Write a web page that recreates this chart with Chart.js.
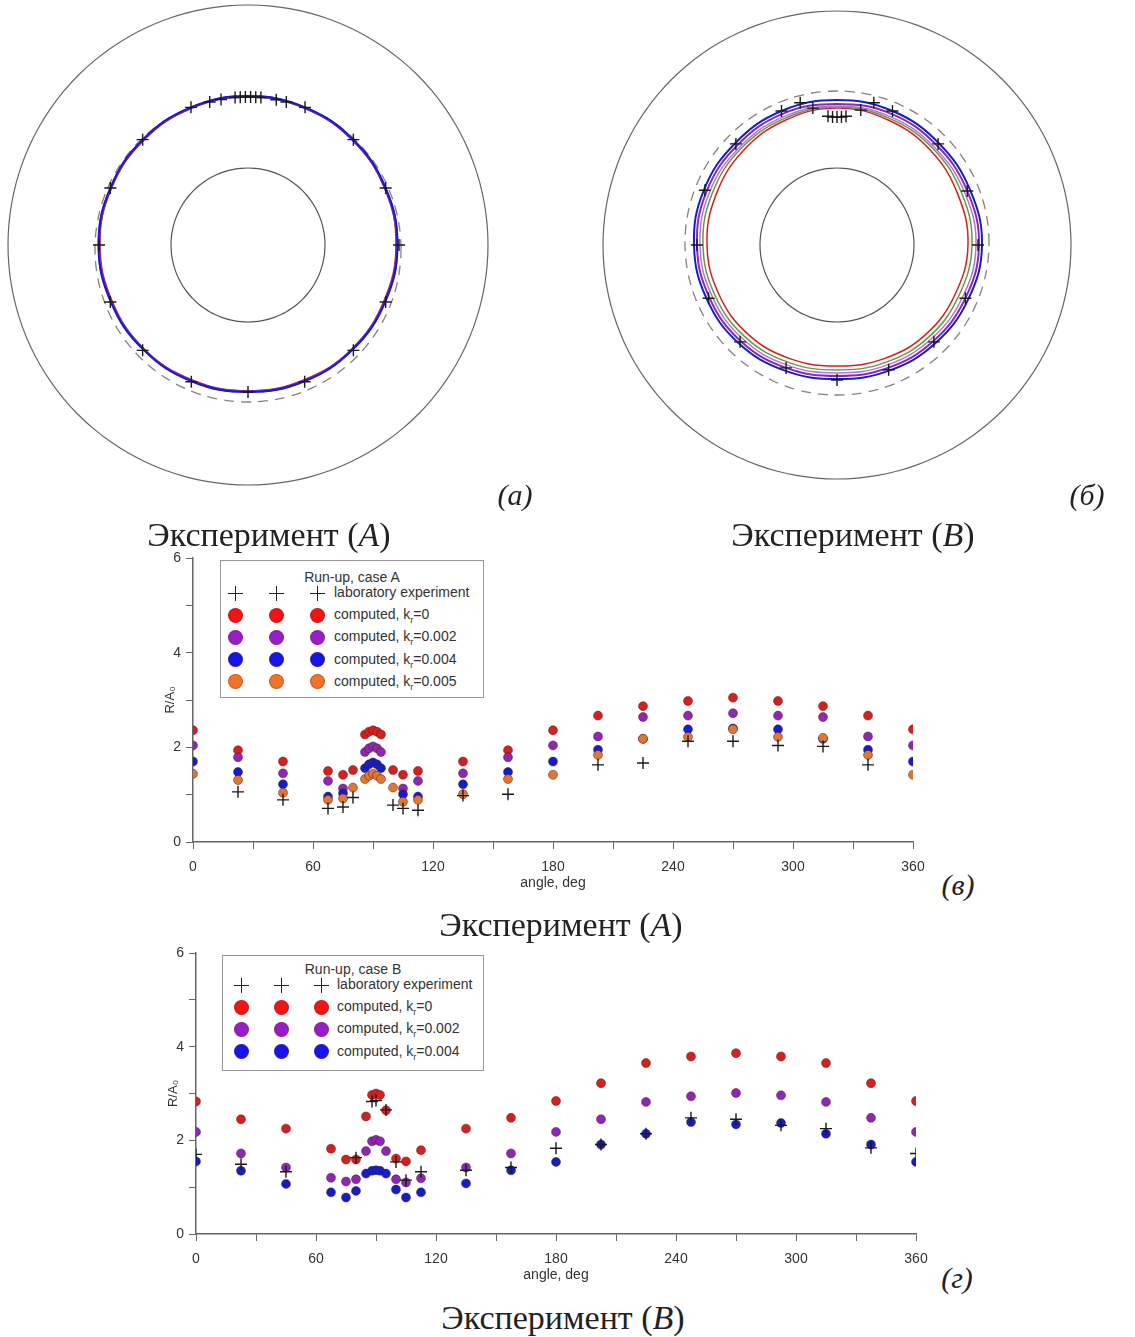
<!DOCTYPE html>
<html>
<head>
<meta charset="utf-8">
<script src="https://cdn.jsdelivr.net/npm/chart.js@4.4.0/dist/chart.umd.min.js"></script>
<style>
  body { margin: 0; background: #fff; }
  #page { position: relative; width: 1135px; height: 1337px; background: #fff; overflow: hidden; }
  canvas { position: absolute; }
  .cap { position: absolute; font-family: 'Liberation Serif', 'Times New Roman', serif; font-size: 34px; line-height: 36px; color: #222; white-space: nowrap; transform: translateX(-50%); }
  .lbl { position: absolute; font-family: 'Liberation Serif', 'Times New Roman', serif; font-style: italic; font-size: 30px; line-height: 32px; color: #222; transform: translateX(-50%); }
  .legend { position: absolute; border: 1px solid #999; background: #fff; font-family: 'Liberation Sans', Arial, sans-serif; font-size: 14px; color: #333; }
  .legend .title { position: absolute; left: 0; right: 0; text-align: center; line-height: 16px; }
  .legend .txt { position: absolute; white-space: nowrap; line-height: 16px; }
  .mk { position: absolute; width: 15px; height: 15px; border-radius: 50%; box-sizing: border-box; }
  .cross { position: absolute; width: 15px; height: 15px; }
  .cross:before, .cross:after { content: ''; position: absolute; background: #222; }
  .cross:before { left: 7px; top: 0; width: 1.6px; height: 15px; }
  .cross:after { top: 7px; left: 0; height: 1.6px; width: 15px; }
</style>
</head>
<body>
<div id="page">
  <canvas id="polarA" width="500" height="492" style="left:0px;top:0px;"></canvas>
  <canvas id="polarB" width="500" height="492" style="left:588px;top:0px;"></canvas>
  <canvas id="runupA" width="820" height="350" style="left:120px;top:548px;"></canvas>
  <canvas id="runupB" width="820" height="350" style="left:120px;top:940px;"></canvas>

  <div class="lbl" style="left:515px;top:479px;">(а)</div>
  <div class="lbl" style="left:1087px;top:479px;">(б)</div>
  <div class="cap" style="left:269px;top:517px;">Эксперимент (<i>A</i>)</div>
  <div class="cap" style="left:853px;top:517px;">Эксперимент (<i>B</i>)</div>
  <div class="lbl" style="left:958px;top:869px;">(в)</div>
  <div class="cap" style="left:561px;top:907px;">Эксперимент (<i>A</i>)</div>
  <div class="lbl" style="left:957px;top:1262px;">(г)</div>
  <div class="cap" style="left:563px;top:1300px;">Эксперимент (<i>B</i>)</div>

  <div class="legend" id="legA" style="left:220px;top:560px;width:262px;height:136px;"></div>
  <div class="legend" id="legB" style="left:222px;top:955px;width:260px;height:114px;"></div>
</div>

<script>
// ---- run-up vs angle, case A (panel в)
const anglesA = [0, 22.5, 45, 67.5, 75, 80, 86, 88, 90, 92, 94, 100, 105, 112.5, 135, 157.5, 180, 202.5, 225, 247.5, 270, 292.5, 315, 337.5, 360];
const labA = [null, 1.06, 0.89, 0.71, 0.74, 0.94, null, null, null, null, null, 0.78, 0.71, 0.67, 0.98, 1.01, null, 1.63, 1.67, 2.13, 2.13, 2.04, 2.02, 1.63, null];
const compA_k0 = [2.36, 1.94, 1.70, 1.50, 1.42, 1.52, 2.27, 2.33, 2.36, 2.33, 2.27, 1.52, 1.42, 1.50, 1.70, 1.94, 2.36, 2.67, 2.87, 2.98, 3.05, 2.98, 2.87, 2.67, 2.38];
const compA_k002 = [2.04, 1.79, 1.45, 1.29, 1.13, null, 1.90, 1.98, 2.02, 1.98, 1.90, null, 1.13, 1.29, 1.45, 1.79, 2.04, 2.23, 2.64, 2.67, 2.72, 2.67, 2.64, 2.23, 2.04];
const compA_k004 = [1.70, 1.48, 1.22, 0.96, 1.03, null, 1.56, 1.64, 1.68, 1.64, 1.56, null, 1.01, 0.96, 1.22, 1.48, 1.70, 1.95, 2.18, 2.38, 2.40, 2.38, 2.18, 1.95, 1.70];
const compA_k005 = [1.44, 1.31, 1.04, 0.89, 0.92, 1.15, 1.33, 1.40, 1.44, 1.40, 1.33, 1.15, 0.85, 0.89, 1.01, 1.33, 1.42, 1.84, 2.18, 2.22, 2.38, 2.22, 2.20, 1.84, 1.42];

// ---- run-up vs angle, case B (panel г)
const anglesB = [0, 22.5, 45, 67.5, 75, 80, 85, 88, 90, 92, 95, 100, 105, 112.5, 135, 157.5, 180, 202.5, 225, 247.5, 270, 292.5, 315, 337.5, 360];
const labB = [1.70, 1.49, 1.33, null, null, 1.63, null, 2.83, 2.85, null, 2.65, 1.54, 1.15, 1.33, 1.36, 1.42, 1.83, 1.91, 2.14, 2.48, 2.45, 2.32, 2.25, 1.84, 1.72];
const compB_k0 = [2.83, 2.45, 2.25, 1.82, 1.59, 1.59, 2.51, 2.97, 3.00, 2.97, 2.64, 1.61, 1.55, 1.79, 2.25, 2.48, 2.84, 3.22, 3.65, 3.79, 3.86, 3.79, 3.65, 3.22, 2.84];
const compB_k002 = [2.18, 1.72, 1.42, 1.20, 1.12, 1.17, 1.77, 1.98, 2.01, 1.98, 1.77, 1.17, 1.10, 1.19, 1.42, 1.72, 2.18, 2.45, 2.82, 2.94, 3.01, 2.96, 2.82, 2.48, 2.18];
const compB_k004 = [1.55, 1.35, 1.07, 0.89, 0.78, 0.92, 1.29, 1.35, 1.36, 1.35, 1.29, 0.95, 0.78, 0.89, 1.08, 1.36, 1.54, 1.91, 2.14, 2.39, 2.34, 2.37, 2.14, 1.91, 1.54];

const yTicks = [0, 2, 4, 6];
const xTicks = [0, 60, 120, 180, 240, 300, 360];

// ---- plan views: radius in px of the drawing, angle in deg (0 = right, 90 = top)
const outerA = 240, outerB = 234, innerR = 77;
const shoreA = 153, shoreB = 152;
const labPolarAnglesA = [0, 22.5, 45, 67.5, 75, 79, 85, 87, 89, 91, 93, 95, 100.5, 105, 112.5, 135, 157.5, 180, 202.5, 225, 247.5, 270, 292.5, 315, 337.5];
const labPolarRadiusA = [151, 149, 149, 149, 148, 148, 148, 148, 148, 148, 148, 148, 148, 148, 149, 149, 149, 149, 149, 149, 148, 147, 148, 149, 149];
const ringAngles = [0, 22.5, 45, 67.5, 90, 112.5, 135, 157.5, 180, 202.5, 225, 247.5, 270, 292.5, 315, 337.5];
const ringA_red = [148, 148, 148, 148, 148, 148, 148, 148, 148, 147, 147, 146, 146, 146, 147, 147];
const ringA_purple = [149, 148.5, 148.5, 148.5, 148.5, 148.5, 148.5, 148.5, 149, 148, 147.5, 147, 146.5, 147, 147.5, 148];
const ringA_blue = [149.5, 149, 149, 149, 149, 149, 149, 149, 149.5, 148.5, 148, 147.5, 147, 147.5, 148, 148.5];

const labPolarAnglesB = [0, 22.5, 45, 67.5, 75.5, 80, 86, 88, 90, 92, 94, 100, 104.5, 112.5, 135, 157.5, 180, 202.5, 225, 247.5, 270, 292.5, 315, 337.5];
const labPolarRadiusB = [141, 141, 143, 145, 147, 137, 129, 128, 128, 128, 129, 139, 147, 145, 143, 143, 140, 139, 137, 133, 135, 135, 137, 139];
const ringB_blue = [145, 144, 144, 145, 145, 145, 144, 144, 143, 141, 139, 136, 134, 136, 139, 142];
const ringB_purple = [142, 141, 141, 142, 141, 142, 141, 141, 140, 138, 136, 133, 131, 133, 136, 139];
const ringB_violet = [139, 138, 138, 139, 139, 139, 138, 138, 137, 135, 133, 130, 128, 130, 133, 136];
const ringB_green = [135, 135, 136, 137, 138, 137, 136, 135, 134, 132, 130, 127, 125, 127, 130, 132];
const ringB_red = [131, 131, 133, 135, 137, 135, 133, 131, 130, 128, 126, 123, 121, 123, 126, 128];

const RED = 'rgb(214,32,32)', PURPLE = 'rgb(140,40,180)', BLUE = 'rgb(20,30,200)', ORANGE = 'rgb(222,120,50)';

// closed smooth rings: let the line element wrap around like a radar line
const closeLoop = {
    id: 'closeLoop',
    afterDatasetUpdate(chart, args) {
        const ds = chart.data.datasets[args.index];
        if (ds.closed && args.meta.dataset) {
            args.meta.dataset._loop = true;
            args.meta.dataset._fullLoop = true;
        }
    }
};

function toXY(angles, radii, cx, cy) {
    return angles.map((a, i) => ({
        x: cx + radii[i] * Math.cos(a * Math.PI / 180),
        y: cy + radii[i] * Math.sin(a * Math.PI / 180)
    }));
}

const circleAngles = [];
for (let a = 0; a < 360; a += 5) circleAngles.push(a);
function circle(r, cx, cy) {
    return toXY(circleAngles, circleAngles.map(() => r), cx, cy);
}

function lineSet(data, color, width, extra) {
    return Object.assign({
        data: data, showLine: true, borderColor: color, borderWidth: width,
        pointRadius: 0, tension: 0.4, fill: false, closed: true
    }, extra || {});
}

function crossSet(data) {
    return { data: data, showLine: false, pointStyle: 'cross', pointRadius: 6,
             borderColor: '#1a1a1a', borderWidth: 1.4 };
}

function planView(id, datasets, xmin, xmax) {
    new Chart(document.getElementById(id), {
        type: 'scatter',
        data: { datasets: datasets },
        plugins: [closeLoop],
        options: {
            responsive: false,
            animation: false,
            layout: { padding: 0, autoPadding: false },
            plugins: { legend: { display: false }, tooltip: { enabled: false } },
            scales: {
                x: { display: false, min: xmin, max: xmax },
                y: { display: false, min: -247, max: 245 }
            }
        }
    });
}

planView('polarA', [
    crossSet(toXY(labPolarAnglesA, labPolarRadiusA, 0, 0)),
    lineSet(toXY(ringAngles, ringA_blue, 0, 0), BLUE, 2),
    lineSet(toXY(ringAngles, ringA_purple, 0, 0), 'rgb(120,40,200)', 2.5),
    lineSet(toXY(ringAngles, ringA_red, 0, 0), RED, 1.5),
    lineSet(circle(shoreA, 0, -4), '#8c8078', 1.3, { borderDash: [10, 7] }),
    lineSet(circle(outerA, 0, 0), '#666', 1.2),
    lineSet(circle(innerR, 0, 0), '#555', 1.2)
], -248, 252);

planView('polarB', [
    crossSet(toXY(labPolarAnglesB, labPolarRadiusB, 0, 0)),
    lineSet(toXY(ringAngles, ringB_blue, 0, 0), BLUE, 2),
    lineSet(toXY(ringAngles, ringB_purple, 0, 0), PURPLE, 2),
    lineSet(toXY(ringAngles, ringB_violet, 0, 0), 'rgb(170,120,225)', 1.5),
    lineSet(toXY(ringAngles, ringB_green, 0, 0), 'rgb(110,150,60)', 1.5),
    lineSet(toXY(ringAngles, ringB_red, 0, 0), RED, 1.5),
    lineSet(circle(shoreB, 0, 2), '#8c8078', 1.3, { borderDash: [10, 7] }),
    lineSet(circle(outerB, 0, 0), '#666', 1.2),
    lineSet(circle(innerR, 0, 0), '#555', 1.2)
], -249, 251);

function pts(angles, vals) {
    return angles.map((a, i) => ({ x: a, y: vals[i] })).filter(p => p.y !== null);
}

function dotSet(data, color) {
    return { data: data, pointStyle: 'circle', pointRadius: 4.5, backgroundColor: color,
             borderColor: 'rgba(80,20,20,0.45)', borderWidth: 1 };
}

function runupChart(id, datasets, padLeft, padTop, padRight) {
    new Chart(document.getElementById(id), {
        type: 'scatter',
        data: { datasets: datasets },
        options: {
            responsive: false,
            animation: false,
            layout: { padding: { left: padLeft, top: padTop, right: padRight, bottom: 6 }, autoPadding: false },
            plugins: { legend: { display: false }, tooltip: { enabled: false } },
            scales: {
                x: {
                    min: 0, max: 360,
                    afterBuildTicks: s => { s.ticks = [0, 30, 60, 90, 120, 150, 180, 210, 240, 270, 300, 330, 360].map(v => ({ value: v })); },
                    ticks: { callback: v => xTicks.includes(v) ? String(v) : '', color: '#333',
                             font: { family: 'Liberation Sans, Arial', size: 14 }, maxRotation: 0, padding: 10 },
                    grid: { drawOnChartArea: false, drawTicks: true, tickLength: 7, color: '#666' },
                    border: { display: true, color: '#666', width: 1.5 },
                    title: { display: true, text: 'angle, deg', color: '#333',
                             font: { family: 'Liberation Sans, Arial', size: 14 }, padding: { top: 0, bottom: 0 } },
                    afterFit: s => { s.height = 50; s.paddingLeft = 0; s.paddingRight = 0; }
                },
                y: {
                    min: 0, max: 6,
                    afterBuildTicks: s => { s.ticks = [0, 1, 2, 3, 4, 5, 6].map(v => ({ value: v })); },
                    ticks: { callback: v => yTicks.includes(v) ? String(v) : '', color: '#333',
                             font: { family: 'Liberation Sans, Arial', size: 14 }, padding: 5 },
                    grid: { drawOnChartArea: false, drawTicks: true, tickLength: 7, color: '#666' },
                    border: { display: true, color: '#666', width: 1.5 },
                    title: { display: true, text: 'R/A₀', color: '#333',
                             font: { family: 'Liberation Sans, Arial', size: 13 }, padding: { top: 2, bottom: 2 } },
                    afterFit: s => { s.width = 32; s.paddingTop = 0; s.paddingBottom = 0; }
                }
            }
        }
    });
}

runupChart('runupA', [
    crossSet(pts(anglesA, labA)),
    dotSet(pts(anglesA, compA_k005), ORANGE),
    dotSet(pts(anglesA, compA_k004), BLUE),
    dotSet(pts(anglesA, compA_k002), PURPLE),
    dotSet(pts(anglesA, compA_k0), RED)
], 41, 10, 27);

runupChart('runupB', [
    crossSet(pts(anglesB, labB)),
    dotSet(pts(anglesB, compB_k004), BLUE),
    dotSet(pts(anglesB, compB_k002), PURPLE),
    dotSet(pts(anglesB, compB_k0), RED)
], 44, 13, 24);

// ---- legends (three markers per row, as in the original)
function buildLegend(el, title, rows, top0, rowStep, markX, textX) {
    const box = document.getElementById(el);
    const t = document.createElement('div');
    t.className = 'title';
    t.style.top = (top0 - 24) + 'px';
    t.textContent = title;
    box.appendChild(t);
    rows.forEach((r, i) => {
        const cy = top0 + i * rowStep;
        markX.forEach(mx => {
            const m = document.createElement('div');
            if (r.color) {
                m.className = 'mk';
                m.style.background = r.color;
                m.style.border = '1px solid rgba(120,40,40,0.35)';
                m.style.left = (mx - 7.5) + 'px';
                m.style.top = (cy - 7.5) + 'px';
            } else {
                m.className = 'cross';
                m.style.left = (mx - 7.5) + 'px';
                m.style.top = (cy - 7.5) + 'px';
            }
            box.appendChild(m);
        });
        const tx = document.createElement('div');
        tx.className = 'txt';
        tx.style.left = textX + 'px';
        tx.style.top = (cy - 9) + 'px';
        tx.innerHTML = r.label;
        box.appendChild(tx);
    });
}

const legendRowsA = [
    { label: 'laboratory experiment' },
    { label: 'computed, k<sub style="font-size:9px">r</sub>=0', color: 'rgb(240,20,20)' },
    { label: 'computed, k<sub style="font-size:9px">r</sub>=0.002', color: 'rgb(150,30,200)' },
    { label: 'computed, k<sub style="font-size:9px">r</sub>=0.004', color: 'rgb(20,20,235)' },
    { label: 'computed, k<sub style="font-size:9px">r</sub>=0.005', color: 'rgb(240,115,40)' }
];
const legendRowsB = legendRowsA.slice(0, 4);

buildLegend('legA', 'Run-up, case A', legendRowsA, 32, 22.2, [14, 55, 96], 113);
buildLegend('legB', 'Run-up, case B', legendRowsB, 29, 22.2, [18, 58, 98], 114);
</script>
</body>
</html>
